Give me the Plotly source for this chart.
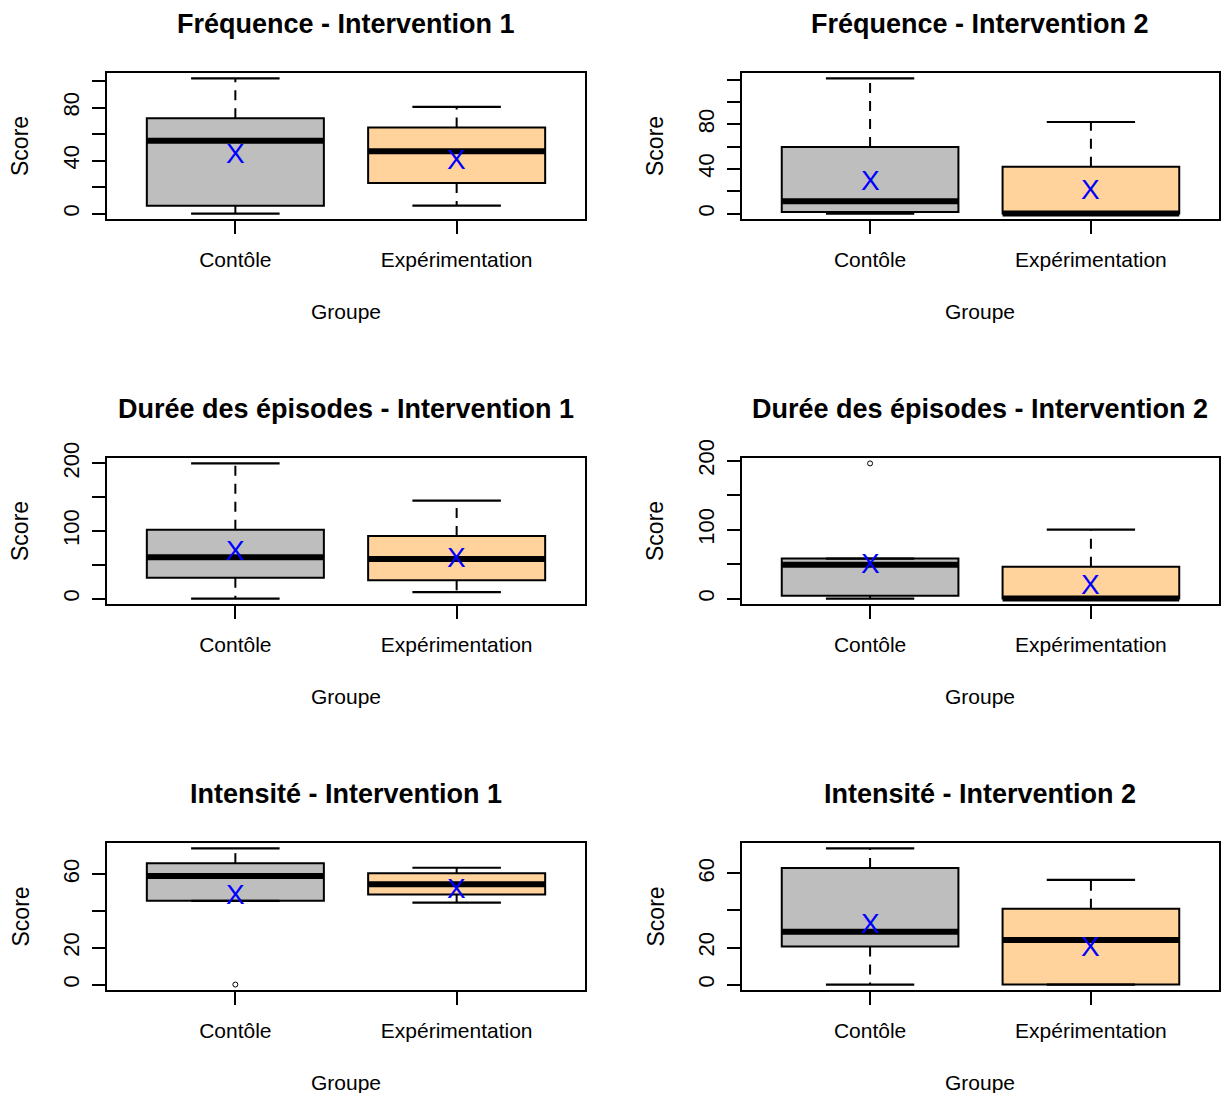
import plotly.graph_objects as go

# ---------------- data ----------------
titles = [
    "Fréquence - Intervention 1", "Fréquence - Intervention 2",
    "Durée des épisodes - Intervention 1", "Durée des épisodes - Intervention 2",
    "Intensité - Intervention 1", "Intensité - Intervention 2",
]
groups = ["Contôle", "Expérimentation"]
x_title = "Groupe"
y_title = "Score"

# box statistics: [lower whisker, Q1, median, Q3, upper whisker]
ctrl_stats = [
    [0, 6, 55, 72, 102],
    [0, 1.5, 11, 59.5, 121],
    [0, 31, 61, 102, 200],
    [0, 4, 49, 58, 58],
    [45.5, 45.5, 59, 66, 74],
    [0, 20.5, 28.5, 63, 73.5],
]
exp_stats = [
    [6, 23, 47, 65, 80.5],
    [0, 0, 0, 42, 82],
    [9.5, 27, 58.5, 92.5, 145],
    [0, 0, 0, 46, 100],
    [44.5, 49, 54.5, 60.5, 63.5],
    [0, 0, 24, 41, 56.5],
]
ctrl_means = [47, 31, 74, 54, 50, 34]
exp_means = [42, 23, 64, 24, 53.5, 21.5]
ctrl_outliers = [[], [], [], [196], [0], []]
exp_outliers = [[], [], [], [], [], []]

y_tickvals = [
    [0, 20, 40, 60, 80, 100],
    [0, 20, 40, 60, 80, 100, 120],
    [0, 50, 100, 150, 200],
    [0, 50, 100, 150, 200],
    [0, 20, 40, 60],
    [0, 20, 40, 60],
]
y_ticktext = [
    ["0", "", "40", "", "80", ""],
    ["0", "", "40", "", "80", "", ""],
    ["0", "", "100", "", "200"],
    ["0", "", "100", "", "200"],
    ["0", "20", "", "60"],
    ["0", "20", "", "60"],
]

# ---------------- style / layout ----------------
W, H = 1221, 1093
col_px = [(107, 585), (742, 1219)]
row_px = [(73, 219), (458, 604), (843, 990)]
fill_colors = ["#BEBEBE", "#FFD39B"]
FONT = "Liberation Sans, Arial, sans-serif"
BOXW = 0.8
CAPW = 0.4

fig = go.Figure()
annotations = []
layout_axes = {}

for k in range(6):
    r, c = divmod(k, 2)
    xa = "x" if k == 0 else f"x{k+1}"
    ya = "y" if k == 0 else f"y{k+1}"
    stats_pair = [ctrl_stats[k], exp_stats[k]]
    means_pair = [ctrl_means[k], exp_means[k]]
    outs_pair = [ctrl_outliers[k], exp_outliers[k]]

    for g in range(2):
        pos = g + 1
        lw, q1, med, q3, uw = stats_pair[g]
        # box body
        fig.add_trace(go.Box(
            x=[pos], q1=[q1], median=[med], q3=[q3],
            lowerfence=[q1], upperfence=[q3],
            width=BOXW, whiskerwidth=0, fillcolor=fill_colors[g],
            line=dict(color="black", width=2), boxpoints=False,
            xaxis=xa, yaxis=ya, showlegend=False, hoverinfo="skip",
        ))
        # dashed whiskers
        fig.add_trace(go.Scatter(
            x=[pos, pos, None, pos, pos], y=[q3, uw, None, q1, lw],
            mode="lines", line=dict(color="black", width=2, dash="10px,8px"),
            xaxis=xa, yaxis=ya, showlegend=False, hoverinfo="skip",
        ))
        # staples
        fig.add_trace(go.Scatter(
            x=[pos - CAPW / 2, pos + CAPW / 2, None, pos - CAPW / 2, pos + CAPW / 2],
            y=[uw, uw, None, lw, lw],
            mode="lines", line=dict(color="black", width=2.2),
            xaxis=xa, yaxis=ya, showlegend=False, hoverinfo="skip",
        ))
        # thick median
        fig.add_trace(go.Scatter(
            x=[pos - BOXW / 2, pos + BOXW / 2], y=[med, med],
            mode="lines", line=dict(color="black", width=6),
            xaxis=xa, yaxis=ya, showlegend=False, hoverinfo="skip",
        ))
        # outliers
        if outs_pair[g]:
            fig.add_trace(go.Scatter(
                x=[pos] * len(outs_pair[g]), y=outs_pair[g], mode="markers",
                marker=dict(symbol="circle-open", size=5, color="black", line=dict(width=1)),
                xaxis=xa, yaxis=ya, showlegend=False, hoverinfo="skip",
            ))
        # mean marker ("X" character placed at the mean)
        annotations.append(dict(
            x=pos, y=means_pair[g], xref=xa, yref=ya, text="X",
            xanchor="center", yanchor="middle", yshift=-2, showarrow=False,
            font=dict(family=FONT, size=28, color="#0000FF"),
        ))

    allv = stats_pair[0] + stats_pair[1] + outs_pair[0] + outs_pair[1]
    lo, hi = min(allv), max(allv)
    pad = 0.04 * (hi - lo)

    x0, x1 = col_px[c]
    t0, t1 = row_px[r]
    xdom = [x0 / W, x1 / W]
    ydom = [1 - t1 / H, 1 - t0 / H]
    xkey = "xaxis" if k == 0 else f"xaxis{k+1}"
    ykey = "yaxis" if k == 0 else f"yaxis{k+1}"
    layout_axes[xkey] = dict(
        domain=xdom, anchor=ya, range=[0.42, 2.58],
        tickmode="array", tickvals=[1, 2], ticktext=groups,
        ticks="outside", ticklen=13, tickwidth=2, tickcolor="black",
        showline=True, mirror=True, linecolor="black", linewidth=2,
        showgrid=False, zeroline=False, fixedrange=True, automargin=False,
        tickfont=dict(family=FONT, size=21, color="black"),
        ticklabelstandoff=8,
    )
    layout_axes[ykey] = dict(
        domain=ydom, anchor=xa, range=[lo - pad, hi + pad],
        tickmode="array", tickvals=y_tickvals[k], ticktext=y_ticktext[k],
        tickangle=-90,
        ticks="outside", ticklen=13, tickwidth=2, tickcolor="black",
        showline=True, mirror=True, linecolor="black", linewidth=2,
        showgrid=False, zeroline=False, fixedrange=True, automargin=False,
        tickfont=dict(family=FONT, size=22, color="black"),
        ticklabelstandoff=4,
    )
    cx = (x0 + x1) / 2 / W
    annotations.append(dict(
        text=f"<b>{titles[k]}</b>", x=cx, y=1 - (t0 - 49) / H,
        xref="paper", yref="paper", xanchor="center", yanchor="middle",
        showarrow=False, font=dict(family=FONT, size=27, color="black"),
    ))
    annotations.append(dict(
        text=x_title, x=cx, y=1 - (t1 + 92) / H,
        xref="paper", yref="paper", xanchor="center", yanchor="middle",
        showarrow=False, font=dict(family=FONT, size=21, color="black"),
    ))
    annotations.append(dict(
        text=y_title, x=(x0 - 87) / W, y=1 - (t0 + t1) / 2 / H,
        xref="paper", yref="paper", xanchor="center", yanchor="middle",
        textangle=-90, showarrow=False,
        font=dict(family=FONT, size=23, color="black"),
    ))

fig.update_layout(
    width=W, height=H, margin=dict(l=0, r=0, t=0, b=0, pad=0, autoexpand=False),
    paper_bgcolor="white", plot_bgcolor="white",
    showlegend=False, annotations=annotations, **layout_axes,
)

fig.write_html(
    "out.html",
    config={"displayModeBar": False, "staticPlot": True},
    post_script="document.body.style.margin='0';document.body.style.padding='0';",
)
